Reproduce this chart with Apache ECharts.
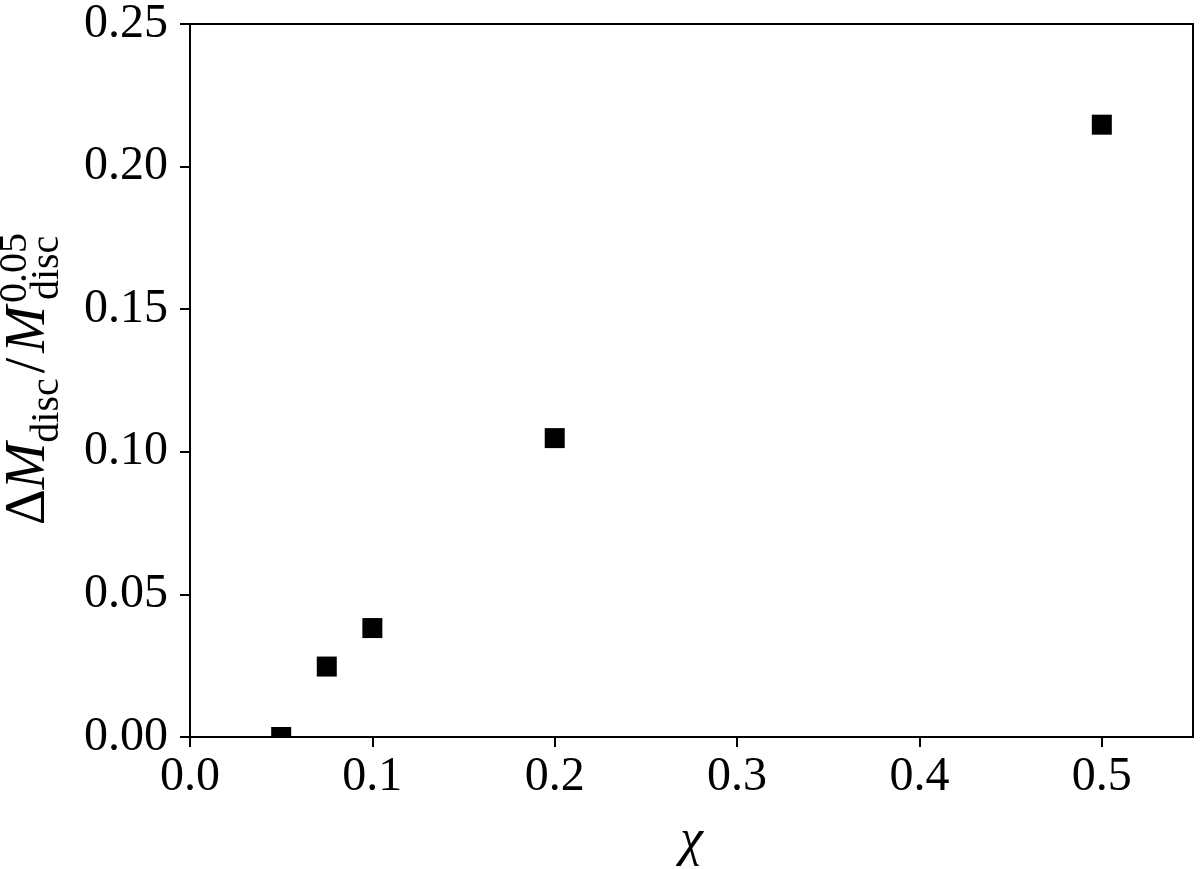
<!DOCTYPE html>
<html>
<head>
<meta charset="utf-8">
<script src="https://cdn.jsdelivr.net/npm/echarts@6/dist/echarts.min.js"></script>
<style>html,body{margin:0;padding:0;background:#fff}#c{width:1200px;height:869px}</style>
</head>
<body>
<div id="c"></div>
<script>
const chiValues = [0.05, 0.075, 0.1, 0.2, 0.5];
const deltaMValues = [0.0, 0.0247, 0.0382, 0.1048, 0.2147];
const xTicks = [0.0, 0.1, 0.2, 0.3, 0.4, 0.5];
const yTicks = [0.00, 0.05, 0.10, 0.15, 0.20, 0.25];
const xLabelDigits = 1;
const yLabelDigits = 2;

const FONT = 'Liberation Serif';
const chart = echarts.init(document.getElementById('c'));
const data = chiValues.map((x, i) => [x, deltaMValues[i]]);

chart.setOption({
  animation: false,
  backgroundColor: '#fff',
  grid: { left: 190, top: 24, right: 7, bottom: 132, show: true, borderColor: '#000', borderWidth: 2,
    containLabel: false, outerBoundsMode: 'none' },
  xAxis: {
    type: 'value', min: 0, max: 0.55, interval: 0.1,
    name: 'χ', nameLocation: 'middle', nameGap: 78,
    nameTextStyle: { fontFamily: FONT, fontStyle: 'italic', fontSize: 52, color: '#000' },
    axisLine: { show: true, onZero: false, lineStyle: { color: '#000', width: 2 } },
    axisTick: { show: true, length: 10, inside: false, lineStyle: { color: '#000', width: 2 }, customValues: xTicks },
    axisLabel: { margin: 16, fontFamily: FONT, fontSize: 48, color: '#000', customValues: xTicks,
      formatter: v => Number(v).toFixed(xLabelDigits) },
    splitLine: { show: false }
  },
  yAxis: {
    type: 'value', min: 0, max: 0.25, interval: 0.05,
    name: '{n|Δ}{i|M}{sub|disc}{sl|/}{i|M}{sup|0.05}{sub|disc}',
    nameLocation: 'middle', nameGap: 123, nameRotate: 90,
    nameTextStyle: {
      color: '#000', fontFamily: FONT, fontSize: 56,
      rich: {
        n: { fontFamily: FONT, fontSize: 56, color: '#000' },
        sl: { fontFamily: FONT, fontSize: 56, color: '#000', padding: [0, 5, 0, 5] },
        i: { fontFamily: FONT, fontSize: 56, fontStyle: 'italic', color: '#000' },
        sub: { fontFamily: FONT, fontSize: 40, color: '#000', padding: [35, 0, 0, 0] },
        sup: { fontFamily: FONT, fontSize: 40, color: '#000', padding: [0, -67, 29, 3] }
      }
    },
    axisLine: { show: true, onZero: false, lineStyle: { color: '#000', width: 2 } },
    axisTick: { show: true, length: 10, inside: false, lineStyle: { color: '#000', width: 2 }, customValues: yTicks },
    axisLabel: { margin: 22, fontFamily: FONT, fontSize: 48, color: '#000', customValues: yTicks,
      formatter: v => Number(v).toFixed(yLabelDigits) },
    splitLine: { show: false }
  },
  series: [{
    type: 'custom',
    coordinateSystem: 'cartesian2d',
    data: data,
    encode: { x: 0, y: 1 },
    renderItem: function (params, api) {
      const p = api.coord([api.value(0), api.value(1)]);
      const half = 10;
      const cs = params.coordSys;
      const shape = echarts.graphic.clipRectByRect(
        { x: p[0] - half, y: p[1] - half, width: half * 2, height: half * 2 },
        { x: cs.x, y: cs.y, width: cs.width, height: cs.height });
      if (!shape) return null;
      return { type: 'rect', shape: shape, style: { fill: '#000' } };
    },
    z: 3
  }]
});
</script>
</body>
</html>
